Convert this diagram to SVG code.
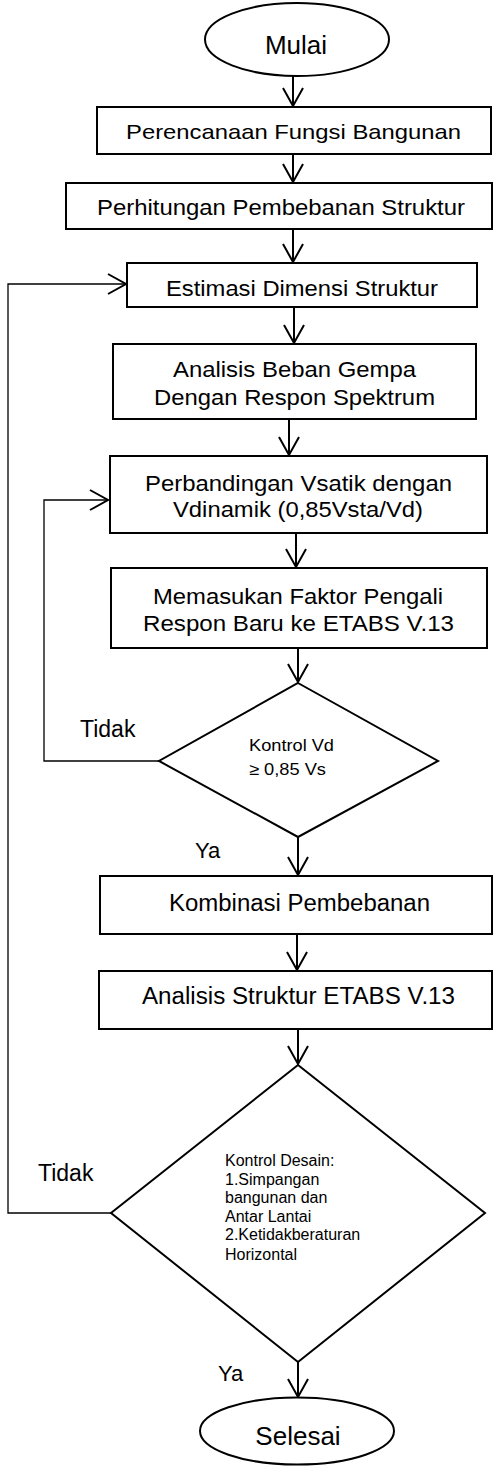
<svg xmlns="http://www.w3.org/2000/svg" width="494" height="1466" viewBox="0 0 494 1466">
<style>
.n{fill:#fff;stroke:#000;stroke-width:2}
.t{font-family:"Liberation Sans",Arial,sans-serif;fill:#000}
.c{fill:none;stroke:#000;stroke-width:2}
.lp{fill:none;stroke:#000;stroke-width:1.3}
</style>
<defs>
<marker id="ah" markerUnits="userSpaceOnUse" markerWidth="24" markerHeight="24" viewBox="-20 -12 24 24" refX="0" refY="0" orient="auto">
<path d="M-18,-10 L0,0 L-18,10" fill="none" stroke="#000" stroke-width="2"/>
</marker>
</defs>
<rect width="494" height="1466" fill="#fff"/>
<g id="connectors">
<line class="c" x1="293" y1="76" x2="293" y2="106" marker-end="url(#ah)"/>
<line class="c" x1="293" y1="154" x2="293" y2="182" marker-end="url(#ah)"/>
<line class="c" x1="293" y1="229" x2="293" y2="262" marker-end="url(#ah)"/>
<line class="c" x1="294" y1="307" x2="294" y2="343" marker-end="url(#ah)"/>
<line class="c" x1="289" y1="419" x2="289" y2="455" marker-end="url(#ah)"/>
<line class="c" x1="296" y1="533" x2="296" y2="567" marker-end="url(#ah)"/>
<line class="c" x1="298" y1="648" x2="298" y2="682" marker-end="url(#ah)"/>
<line class="c" x1="298" y1="837" x2="298" y2="875" marker-end="url(#ah)"/>
<line class="c" x1="297" y1="934" x2="297" y2="970" marker-end="url(#ah)"/>
<line class="c" x1="298" y1="1029" x2="298" y2="1064" marker-end="url(#ah)"/>
<line class="c" x1="298" y1="1362" x2="298" y2="1397" marker-end="url(#ah)"/>
<polyline class="lp" points="159,761 44,761 44,500 108,500" marker-end="url(#ah)"/>
<polyline class="lp" points="111,1213 8,1213 8,284 126,284" marker-end="url(#ah)"/>
</g>
<g id="n-mulai">
<ellipse class="n" cx="297" cy="39.5" rx="92" ry="36.5"/>
<text class="t" x="296" y="54" font-size="26" text-anchor="middle">Mulai</text>
</g>
<g id="n-perencanaan">
<rect class="n" x="97" y="107" width="394" height="47"/>
<text class="t" x="126" y="139" font-size="21" textLength="335" lengthAdjust="spacingAndGlyphs">Perencanaan Fungsi Bangunan</text>
</g>
<g id="n-perhitungan">
<rect class="n" x="66" y="183" width="426" height="46"/>
<text class="t" x="97" y="215" font-size="22.5" textLength="368" lengthAdjust="spacingAndGlyphs">Perhitungan Pembebanan Struktur</text>
</g>
<g id="n-estimasi">
<rect class="n" x="127" y="263" width="350" height="44"/>
<text class="t" x="166" y="296" font-size="22.5" textLength="272" lengthAdjust="spacingAndGlyphs">Estimasi Dimensi Struktur</text>
</g>
<g id="n-analisis-gempa">
<rect class="n" x="113" y="344" width="363" height="75"/>
<text class="t" x="173" y="377" font-size="22.5" textLength="243" lengthAdjust="spacingAndGlyphs">Analisis Beban Gempa</text>
<text class="t" x="154" y="405" font-size="22.5" textLength="281" lengthAdjust="spacingAndGlyphs">Dengan Respon Spektrum</text>
</g>
<g id="n-perbandingan">
<rect class="n" x="110" y="456" width="377" height="77"/>
<text class="t" x="145" y="490.5" font-size="22.5" textLength="307" lengthAdjust="spacingAndGlyphs">Perbandingan Vsatik dengan</text>
<text class="t" x="173" y="517" font-size="22.5" textLength="250" lengthAdjust="spacingAndGlyphs">Vdinamik (0,85Vsta/Vd)</text>
</g>
<g id="n-memasukan">
<rect class="n" x="111" y="568" width="376" height="80"/>
<text class="t" x="153" y="604" font-size="22.5" textLength="290" lengthAdjust="spacingAndGlyphs">Memasukan Faktor Pengali</text>
<text class="t" x="143" y="631" font-size="22.5" textLength="311" lengthAdjust="spacingAndGlyphs">Respon Baru ke ETABS V.13</text>
</g>
<g id="n-kontrol-vd">
<polygon class="n" points="298,683 438,761 298,837 159,761"/>
<text class="t" x="249" y="751" font-size="16.5" textLength="85" lengthAdjust="spacingAndGlyphs">Kontrol Vd</text>
<text class="t" x="249" y="775" font-size="16.5" textLength="77" lengthAdjust="spacingAndGlyphs">≥ 0,85 Vs</text>
</g>
<g id="n-kombinasi">
<rect class="n" x="100" y="876" width="392" height="58"/>
<text class="t" x="169" y="911" font-size="23.5" textLength="261" lengthAdjust="spacingAndGlyphs">Kombinasi Pembebanan</text>
</g>
<g id="n-analisis-struktur">
<rect class="n" x="99" y="971" width="393" height="58"/>
<text class="t" x="142" y="1004" font-size="23" textLength="313" lengthAdjust="spacingAndGlyphs">Analisis Struktur ETABS V.13</text>
</g>
<g id="n-kontrol-desain">
<polygon class="n" points="298,1065 485,1213 298,1362 111,1213"/>
<text class="t" x="225" font-size="16">
<tspan x="225" y="1166">Kontrol Desain:</tspan>
<tspan x="225" y="1185">1.Simpangan</tspan>
<tspan x="225" y="1203">bangunan dan</tspan>
<tspan x="225" y="1222">Antar Lantai</tspan>
<tspan x="225" y="1240">2.Ketidakberaturan</tspan>
<tspan x="225" y="1260">Horizontal</tspan>
</text>
</g>
<g id="labels">
<text class="t" x="80" y="737" font-size="23">Tidak</text>
<text class="t" x="195" y="858" font-size="22">Ya</text>
<text class="t" x="38" y="1181" font-size="23">Tidak</text>
<text class="t" x="218" y="1381" font-size="22">Ya</text>
</g>
<g id="n-selesai">
<ellipse class="n" cx="297" cy="1431" rx="97" ry="33.5"/>
<text class="t" x="298" y="1445" font-size="26" text-anchor="middle">Selesai</text>
</g>
</svg>
